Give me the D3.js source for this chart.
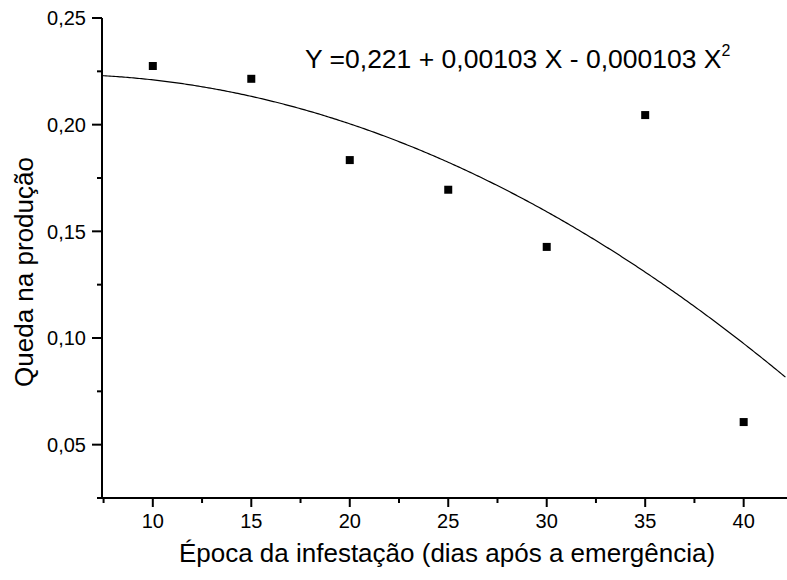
<!DOCTYPE html>
<html>
<head>
<meta charset="utf-8">
<script src="https://cdn.jsdelivr.net/npm/d3@7"></script>
<style>
  body { margin: 0; background: #fff; }
  svg text { font-family: "Liberation Sans", Arial, sans-serif; fill: #000; }
</style>
</head>
<body>
<div id="chart"></div>
<script>
// observed data
const epocas = [10, 15, 20, 25, 30, 35, 40];
const quedas = [0.2275, 0.2215, 0.1834, 0.1695, 0.1427, 0.2045, 0.0606];

// fitted model Y = b0 + b1 X + b2 X^2
const coefs = [0.221, 0.00103, -0.000103];
const equationText = 'Y =0,221 + 0,00103 X - 0,000103 X';

const xTicks = [10, 15, 20, 25, 30, 35, 40];
const xMinor = [7.5, 12.5, 17.5, 22.5, 27.5, 32.5, 37.5, 42.5];
const yTicks = [0.05, 0.10, 0.15, 0.20, 0.25];
const yMinor = [0.025, 0.075, 0.125, 0.175, 0.225];

const width = 787;
const height = 580;
const margin = { top: 18, right: 0, bottom: 82, left: 102 };

const svg = d3.select('#chart').append('svg')
  .attr('width', width)
  .attr('height', height);

const x = d3.scaleLinear()
  .domain([7.42, 42.2])
  .range([margin.left, width - margin.right]);

const y = d3.scaleLinear()
  .domain([0.025, 0.25])
  .range([height - margin.bottom, margin.top]);

const fmt = d => d3.format('.2f')(d).replace('.', ',');

// axes
const xAxis = svg.append('g')
  .attr('transform', `translate(0,${y.range()[0]})`);
xAxis.append('line')
  .attr('x1', x.range()[0]).attr('x2', x.range()[1])
  .attr('stroke', '#000').attr('stroke-width', 2);
xAxis.selectAll('line.major').data(xTicks).enter().append('line')
  .attr('class', 'major')
  .attr('x1', d => x(d)).attr('x2', d => x(d))
  .attr('y1', 0).attr('y2', 9)
  .attr('stroke', '#000').attr('stroke-width', 2);
xAxis.selectAll('line.minor').data(xMinor.filter(d => x(d) <= width)).enter().append('line')
  .attr('class', 'minor')
  .attr('x1', d => x(d)).attr('x2', d => x(d))
  .attr('y1', 0).attr('y2', 5)
  .attr('stroke', '#000').attr('stroke-width', 2);
xAxis.selectAll('text').data(xTicks).enter().append('text')
  .attr('x', d => x(d)).attr('y', 30)
  .attr('text-anchor', 'middle')
  .attr('font-size', 20)
  .text(d => d);

const yAxis = svg.append('g')
  .attr('transform', `translate(${x.range()[0]},0)`);
yAxis.append('line')
  .attr('y1', y.range()[0]).attr('y2', y.range()[1])
  .attr('stroke', '#000').attr('stroke-width', 2);
yAxis.selectAll('line.major').data(yTicks).enter().append('line')
  .attr('class', 'major')
  .attr('y1', d => y(d)).attr('y2', d => y(d))
  .attr('x1', 0).attr('x2', -10)
  .attr('stroke', '#000').attr('stroke-width', 2);
yAxis.selectAll('line.minor').data(yMinor).enter().append('line')
  .attr('class', 'minor')
  .attr('y1', d => y(d)).attr('y2', d => y(d))
  .attr('x1', 0).attr('x2', -5)
  .attr('stroke', '#000').attr('stroke-width', 2);
yAxis.selectAll('text').data(yTicks).enter().append('text')
  .attr('x', -16).attr('y', d => y(d))
  .attr('dy', '0.36em')
  .attr('text-anchor', 'end')
  .attr('font-size', 20)
  .text(fmt);

// axis titles
svg.append('text')
  .attr('x', 447)
  .attr('y', 562)
  .attr('text-anchor', 'middle')
  .attr('font-size', 26)
  .text('Época da infestação (dias após a emergência)');

svg.append('text')
  .attr('transform', `translate(33,272) rotate(-90)`)
  .attr('text-anchor', 'middle')
  .attr('font-size', 26)
  .text('Queda na produção');

// fitted curve
const curveX = d3.range(x.domain()[0], x.domain()[1] + 0.01, 0.1);
const model = v => coefs[0] + coefs[1] * v + coefs[2] * v * v;
svg.append('path')
  .datum(curveX)
  .attr('fill', 'none')
  .attr('stroke', '#000')
  .attr('stroke-width', 1.2)
  .attr('d', d3.line().x(d => x(d)).y(d => y(model(d))));

// points
svg.selectAll('rect.pt').data(epocas).enter().append('rect')
  .attr('class', 'pt')
  .attr('x', (d, i) => x(d) - 4)
  .attr('y', (d, i) => y(quedas[i]) - 4)
  .attr('width', 8).attr('height', 8)
  .attr('fill', '#000');

// equation
const eq = svg.append('text')
  .attr('x', 305).attr('y', 68)
  .attr('font-size', 26.5);
eq.append('tspan').text(equationText);
eq.append('tspan')
  .attr('dy', -12)
  .attr('font-size', 16)
  .text('2');
</script>
</body>
</html>
